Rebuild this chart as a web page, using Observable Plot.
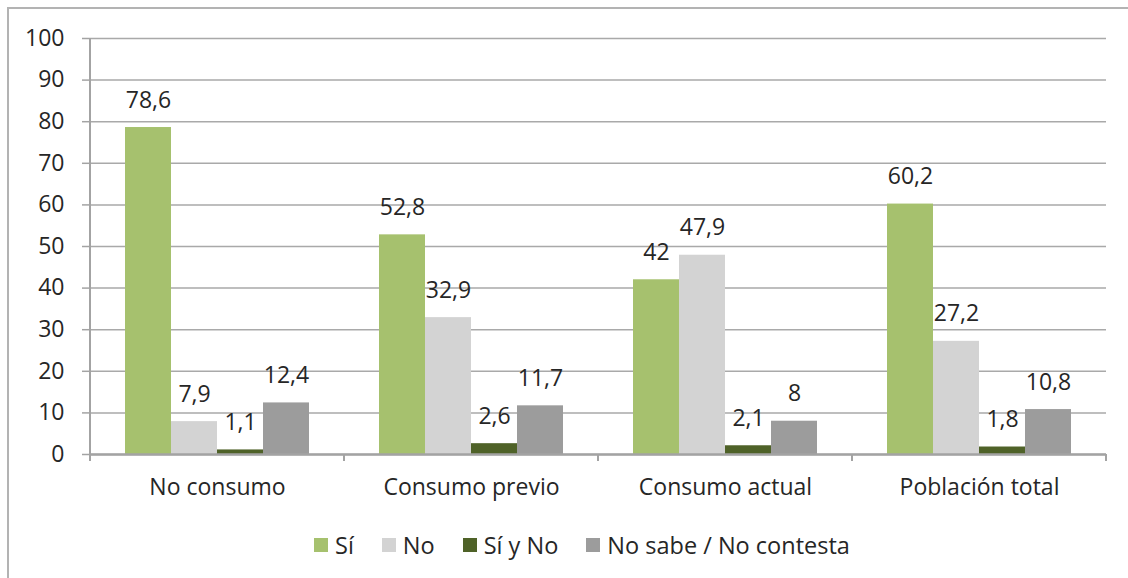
<!DOCTYPE html>
<html>
<head>
<meta charset="utf-8">
<script src="https://cdn.jsdelivr.net/npm/d3@7"></script>
<script src="https://cdn.jsdelivr.net/npm/@observablehq/plot@0.6"></script>
<style>
  html, body { margin: 0; padding: 0; background: #fff; }
  body { width: 1128px; height: 578px; overflow: hidden; position: relative; font-family: "Open Sans", sans-serif; color: #262626; }
  #frame { position: absolute; left: 7px; top: 7px; width: 1300px; height: 700px; border: 2px solid #b3b3b3; box-sizing: border-box; }
  #chart { position: absolute; left: 0; top: 0; }
  #legend { position: absolute; left: 314px; top: 530px; height: 30px; display: flex; align-items: center; font-size: 23.5px; white-space: nowrap; }
  #legend .item { display: flex; align-items: center; margin-right: 28px; }
  #legend .swatch { width: 14px; height: 14px; margin-right: 7px; }
</style>
</head>
<body>
<div id="frame"></div>
<div id="chart"></div>
<div id="legend"></div>
<script>
// Categories (groups along the x axis) and answer series
const groups = ["No consumo", "Consumo previo", "Consumo actual", "Población total"];
const series = ["Sí", "No", "Sí y No", "No sabe / No contesta"];

// Percentages per series, one value per group
const si = [78.6, 52.8, 42, 60.2];
const no = [7.9, 32.9, 47.9, 27.2];
const siYNo = [1.1, 2.6, 2.1, 1.8];
const nsnc = [12.4, 11.7, 8, 10.8];

// Y axis ticks
const yTicks = [0, 10, 20, 30, 40, 50, 60, 70, 80, 90, 100];

const colors = ["#a6c16e", "#d3d3d3", "#4f6228", "#9c9c9c"];
const axisColor = "#a3a3a3";
const gridColor = "#a9a9a9";

const valuesBySeries = [si, no, siYNo, nsnc];
const rows = [];
groups.forEach((g, gi) => {
  series.forEach((s, k) => rows.push({group: g, series: s, value: valuesBySeries[k][gi]}));
});

const fmt = v => String(v).replace(".", ",");

// Axis line on the left plus the category boundary ticks under the x axis
function axisLines(index, scales, values, dimensions) {
  const {width, marginLeft, marginRight} = dimensions;
  const fx = scales.fx;
  const y = scales.y;
  const bw = fx && fx.bandwidth ? fx.bandwidth() : (width - marginLeft - marginRight) / groups.length;
  const y0 = y(0);
  const g = d3.create("svg:g").attr("stroke", axisColor).attr("fill", "none");
  g.append("line")
    .attr("x1", marginLeft).attr("x2", marginLeft)
    .attr("y1", y(100)).attr("y2", y0 + 7)
    .attr("stroke-width", 2);
  const edges = groups.map((d, i) => fx ? fx(d) : marginLeft + i * bw);
  edges.push(edges[edges.length - 1] + bw);
  edges.slice(1).forEach(x => {
    g.append("line")
      .attr("x1", x).attr("x2", x)
      .attr("y1", y0).attr("y2", y0 + 7)
      .attr("stroke-width", 2);
  });
  return g.node();
}

const chart = Plot.plot({
  width: 1128,
  height: 510,
  marginLeft: 90,
  marginRight: 22,
  marginTop: 38,
  marginBottom: 56,
  style: {fontFamily: "Open Sans, sans-serif", fontSize: "23px", color: "#262626", background: "transparent"},
  fx: {domain: groups, padding: 0, label: null, axis: null},
  x: {domain: series, paddingInner: 0, paddingOuter: 0.76, axis: null},
  y: {domain: [0, 100], label: null},
  color: {domain: series, range: colors},
  marks: [
    Plot.gridY(yTicks, {stroke: gridColor, strokeOpacity: 1, strokeWidth: 1.5}),
    Plot.axisY(yTicks, {tickSize: 8, tickPadding: 18, stroke: axisColor, strokeWidth: 1.5, label: null, fontSize: 23, tickFormat: d => String(d)}),
    Plot.axisFx({anchor: "bottom", tickSize: 0, tickPadding: 24, label: null, fontSize: 23}),
    Plot.barY(rows, {fx: "group", x: "series", y: "value", fill: "series"}),
    Plot.text(rows, {fx: "group", x: "series", y: "value", text: d => fmt(d.value), lineAnchor: "bottom", dy: -20, fontSize: 23, fill: "#262626"}),
    Plot.ruleY([0], {stroke: axisColor, strokeWidth: 2.5}),
    Plot.frame({stroke: "none", facet: "super", render: axisLines})
  ]
});
document.getElementById("chart").appendChild(chart);

// Legend below the chart
const legend = d3.select("#legend");
series.forEach((s, i) => {
  const item = legend.append("div").attr("class", "item");
  item.append("div").attr("class", "swatch").style("background", colors[i]);
  item.append("span").text(s);
});
</script>
</body>
</html>
